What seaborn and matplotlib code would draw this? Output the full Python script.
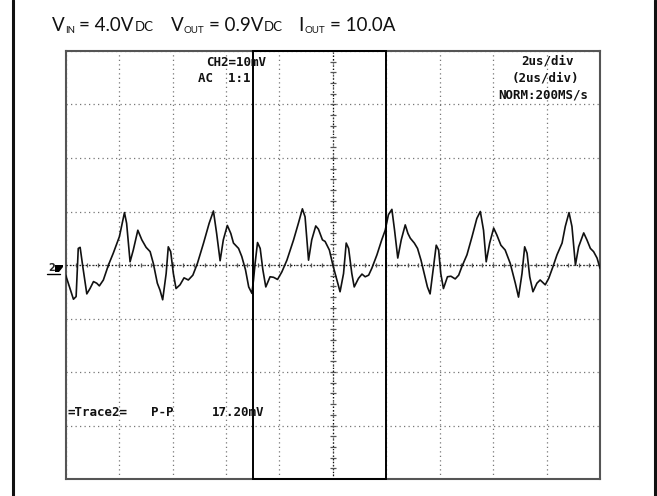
"""Output ripple scope capture, redrawn with seaborn/matplotlib."""

import matplotlib

matplotlib.use("Agg")
import matplotlib.pyplot as plt
import numpy as np
import pandas as pd
import seaborn as sns
from matplotlib.lines import Line2D
from matplotlib.patches import Polygon, Rectangle

# Trace: time in us (2us/div), ripple in mV (10mV/div)
time_us = [
    0.00, 0.14, 0.29, 0.39, 0.47, 0.54, 0.64, 0.79, 0.91, 1.04,
    1.16, 1.26, 1.41, 1.60, 1.78, 2.01, 2.20, 2.28, 2.41, 2.53,
    2.70, 2.85, 3.01, 3.16, 3.28, 3.43, 3.53, 3.63, 3.76, 3.84,
    3.93, 4.03, 4.13, 4.28, 4.43, 4.59, 4.76, 4.93, 5.16, 5.37,
    5.53, 5.65, 5.78, 5.90, 6.05, 6.18, 6.28, 6.47, 6.59, 6.73,
    6.85, 6.97, 7.03, 7.09, 7.18, 7.28, 7.38, 7.49, 7.65, 7.78,
    7.93, 8.09, 8.28, 8.53, 8.71, 8.86, 8.96, 9.09, 9.21, 9.36,
    9.46, 9.61, 9.71, 9.87, 10.00, 10.15, 10.27, 10.40, 10.50, 10.59,
    10.71, 10.80, 10.96, 11.09, 11.21, 11.34, 11.46, 11.65, 11.83, 11.96,
    12.08, 12.21, 12.31, 12.43, 12.56, 12.71, 12.81, 12.90, 13.05, 13.17,
    13.30, 13.42, 13.54, 13.64, 13.77, 13.87, 13.96, 14.04, 14.14, 14.29,
    14.42, 14.58, 14.71, 14.83, 15.02, 15.21, 15.39, 15.52, 15.64, 15.74,
    15.87, 16.02, 16.14, 16.29, 16.45, 16.64, 16.83, 16.95, 17.08, 17.18,
    17.27, 17.37, 17.49, 17.64, 17.76, 17.95, 18.08, 18.24, 18.39, 18.58,
    18.70, 18.84, 18.95, 19.08, 19.20, 19.39, 19.51, 19.64, 19.76, 19.89,
    20.00,
]
ripple_mv = [
    -1.9, -4.1, -6.4, -5.9, 3.1, 3.3, -0.3, -5.4, -4.4, -3.1,
    -3.4, -3.9, -2.8, 0.0, 2.2, 5.3, 9.8, 7.8, 0.6, 2.8,
    6.5, 4.7, 3.3, 2.5, 0.3, -3.4, -4.7, -6.5, -1.6, 3.4,
    2.5, -1.6, -4.4, -3.7, -2.4, -2.8, -1.9, 0.3, 4.1, 7.8,
    10.1, 5.9, 0.8, 4.7, 7.4, 5.9, 4.1, 3.1, 1.6, -0.9,
    -4.1, -5.3, -2.8, 0.3, 4.2, 3.1, -0.9, -4.1, -2.2, -2.3,
    -2.7, -1.3, 0.9, 4.7, 7.8, 10.5, 9.0, 0.9, 4.7, 7.3,
    6.7, 4.7, 4.4, 2.8, 0.0, -2.8, -5.0, -1.6, 4.1, 3.1,
    -1.6, -4.1, -2.5, -1.7, -2.2, -1.9, -0.6, 1.9, 4.7, 6.5,
    9.4, 10.4, 6.5, 1.3, 4.7, 7.5, 5.9, 5.0, 4.1, 3.1,
    0.9, -1.6, -4.1, -5.4, -0.3, 3.7, 2.8, -1.6, -4.4, -2.2,
    -2.1, -2.6, -1.9, -0.3, 1.9, 5.3, 8.7, 10.0, 6.5, 0.6,
    4.1, 6.9, 5.6, 3.7, 2.8, 0.3, -3.4, -6.0, -1.6, 3.4,
    2.2, -2.2, -5.0, -3.4, -2.8, -3.7, -2.5, -0.3, 1.9, 4.1,
    7.2, 9.8, 7.2, 0.0, 3.4, 6.0, 4.7, 3.1, 2.5, 1.3,
    -0.6,
]

# Zoom window (cursor box) on the screen, in us
window_start_us = 7.0
window_end_us = 12.0

W, H = 657, 496

sns.set_style("white")

fig = plt.figure(figsize=(W / 100, H / 100), dpi=100)
ax = fig.add_axes([65.7 / W, 17 / H, 534.3 / W, 428 / H])

df = pd.DataFrame({"t": time_us, "v": ripple_mv})
sns.lineplot(data=df, x="t", y="v", ax=ax, color="#111111", linewidth=1.2,
             estimator=None, sort=False, zorder=5)

ax.set_xlim(0, 20)
ax.set_ylim(-40, 40)
ax.set_xticks(np.arange(0, 21, 2))
ax.set_yticks(np.arange(-40, 41, 10))
ax.tick_params(length=0, labelbottom=False, labelleft=False)
ax.set_xlabel("")
ax.set_ylabel("")
ax.grid(True, color="#777777", linestyle=(0, (1, 2.6)), linewidth=0.9)

# centre graticule with minor ticks
ax.axhline(0, color="#111111", linestyle=(0, (1, 1.6)), linewidth=0.9, zorder=3)
ax.axvline(10, color="#111111", linestyle=(0, (1, 1.6)), linewidth=0.9, zorder=3)
ax.vlines(np.arange(0.4, 20, 0.4), -0.4, 0.4, color="#555555", linewidth=0.9, zorder=3)
ax.hlines(np.arange(-38, 40, 2), 9.89, 10.11, color="#555555", linewidth=0.9, zorder=3)

for sp in ax.spines.values():
    sp.set_color("#555555")
    sp.set_linewidth(1.5)

ax.add_patch(Rectangle((window_start_us, -40), window_end_us - window_start_us, 80,
                       fill=False, edgecolor="black", linewidth=1.4, clip_on=False, zorder=6))

# scope readouts
mono = dict(family="DejaVu Sans Mono", fontweight="bold", fontsize=9, color="#111111")
fig.text(236 / W, 1 - 62 / H, "CH2=10mV", ha="center", va="center", **mono)
fig.text(251 / W, 1 - 78 / H, "AC  1:1", ha="right", va="center", **mono)
fig.text(547 / W, 1 - 61 / H, "2us/div", ha="center", va="center", **mono)
fig.text(545 / W, 1 - 78 / H, "(2us/div)", ha="center", va="center", **mono)
fig.text(588 / W, 1 - 95 / H, "NORM:200MS/s", ha="right", va="center", **mono)
fig.text(67 / W, 1 - 413 / H, "=Trace2=", ha="left", va="center", **mono)
fig.text(151 / W, 1 - 413 / H, "P-P", ha="left", va="center", **mono)
fig.text(264 / W, 1 - 413 / H, "17.20mV", ha="right", va="center", **mono)

# channel 2 ground marker
fig.text(52 / W, 1 - 268 / H, "2", ha="center", va="center", family="DejaVu Sans",
         fontweight="bold", fontsize=7)
fig.add_artist(Line2D([47 / W, 60 / W], [1 - 274 / H, 1 - 274 / H], color="black", linewidth=1))
fig.add_artist(Polygon([(55 / W, 1 - 265 / H), (63 / W, 1 - 265 / H), (63 / W, 1 - 267 / H),
                        (59 / W, 1 - 272 / H), (55 / W, 1 - 272 / H)],
                       closed=True, facecolor="black", edgecolor="none", transform=fig.transFigure))

# heading: pieces laid out one after another (text, size, baseline px, gap before px)
parts = [
    ("V", 13.5, 31, 0), ("IN", 7, 33, 0.5), ("= 4.0V", 13.5, 31, 4.5), ("DC", 9.5, 31, 0.3),
    ("V", 13.5, 31, 17.5), ("OUT", 7, 33, 0.5), ("= 0.9V", 13.5, 31, 4.5), ("DC", 9.5, 31, 0.3),
    ("I", 13.5, 31, 15), ("OUT", 7, 33, 1.0), ("= 10.0A", 13.5, 31, 5.5),
]
renderer = fig.canvas.get_renderer()
x = 51.7
for s, size, base, gap in parts:
    x += gap
    t = fig.text(x / W, 1 - base / H, s, ha="left", va="baseline", family="Lato",
                 fontsize=size, color="#111111")
    x += t.get_window_extent(renderer).width

# outer frame edges
fig.add_artist(Line2D([12.5 / W, 12.5 / W], [0, 1], color="#111111", linewidth=2.2))
fig.add_artist(Line2D([655.3 / W, 655.3 / W], [0, 1], color="#111111", linewidth=2.2))

fig.savefig("out.png", dpi=100)
